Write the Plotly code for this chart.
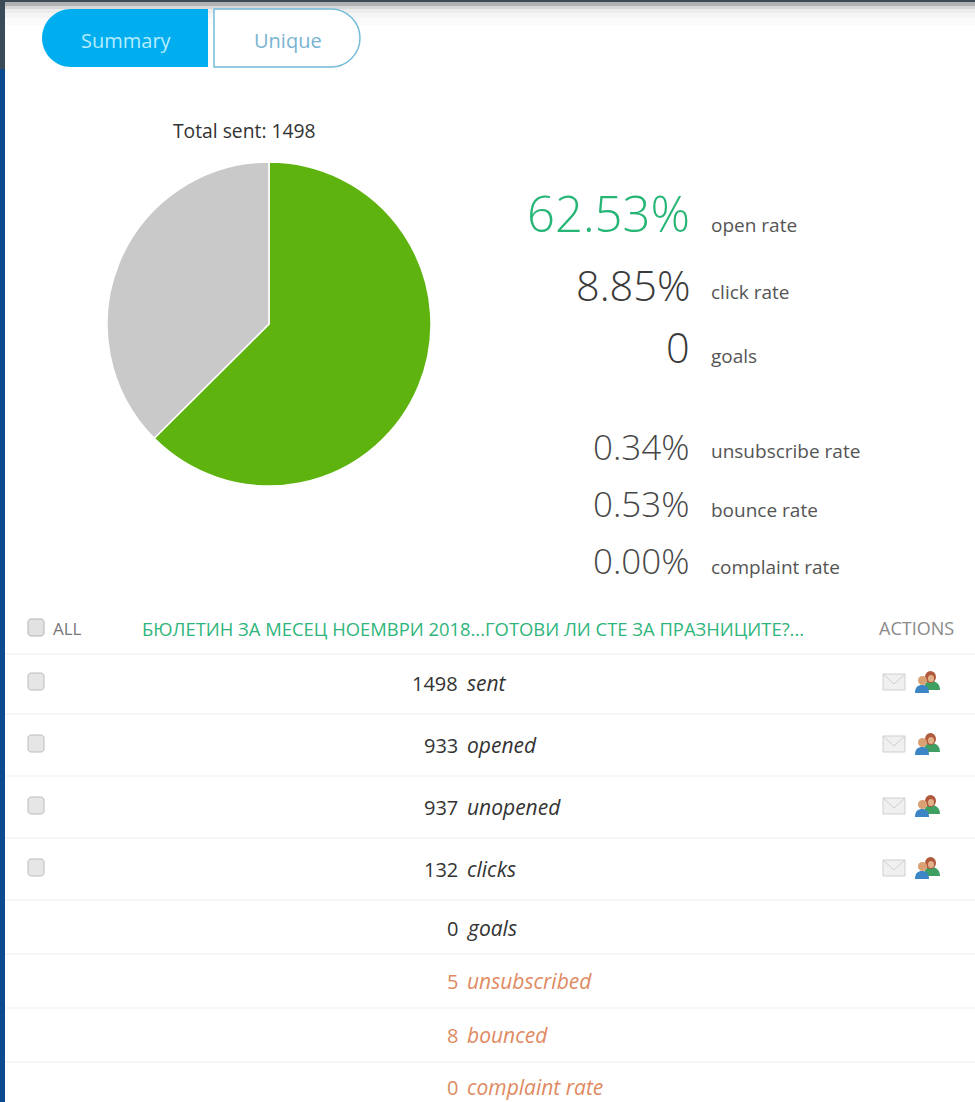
import plotly.graph_objects as go

W, H = 975, 1102
FONT = "Open Sans"

# Campaign figures
total_sent = 1498
pie_labels = ["opened", "not opened"]
pie_values = [62.53, 37.47]
pie_colors = ["#5fb30f", "#c9c9c9"]

rate_values = ["62.53%", "8.85%", "0", "0.34%", "0.53%", "0.00%"]
rate_labels = ["open rate", "click rate", "goals", "unsubscribe rate", "bounce rate", "complaint rate"]

row_values = ["1498", "933", "937", "132", "0", "5", "8", "0"]
row_labels = ["sent", "opened", "unopened", "clicks", "goals", "unsubscribed", "bounced", "complaint rate"]
campaign_title = "БЮЛЕТИН ЗА МЕСЕЦ НОЕМВРИ 2018...ГОТОВИ ЛИ СТЕ ЗА ПРАЗНИЦИТЕ?..."

# Layout of the page, in pixels
rate_y = [213, 285, 347, 446, 503, 560]
rate_size = [49, 41.5, 41.5, 35, 35, 35]
rate_color = ["#25b574", "#3a3a3a", "#3a3a3a", "#474747", "#474747", "#474747"]
rate_label_y = [225, 292, 356, 451, 510, 567]
row_y = [683, 745, 807, 869, 928, 981, 1035, 1087]
row_color = ["#333333"] * 5 + ["#e08a62"] * 3
row_rules = [654, 714, 776, 838, 900, 954, 1008, 1062]
check_rows = [684, 746, 808, 870]
ORANGE_NUM = "#dd8a5e"
# Fading shadow below the top bar: (top, bottom, colour)
header_fade = [(2, 6, "#b0b2b4"), (6, 9, "#d8d8d8"), (9, 13, "#ececec"), (13, 18, "#f5f5f5"), (18, 25, "#fbfbfb")]


def rect(x0, y0, x1, y1, fill, line=None, width=0):
    return dict(type="rect", x0=x0, y0=y0, x1=x1, y1=y1, fillcolor=fill,
                line=dict(color=line or fill, width=width), layer="below")


def rounded(x0, y0, x1, y1, r_left, r_right, fill, line, width):
    k = 0.55
    p = (f"M {x0 + r_left},{y0} L {x1 - r_right},{y0} "
         f"C {x1 - r_right + k * r_right},{y0} {x1},{y0 + r_right - k * r_right} {x1},{y0 + r_right} "
         f"L {x1},{y1 - r_right} "
         f"C {x1},{y1 - r_right + k * r_right} {x1 - r_right + k * r_right},{y1} {x1 - r_right},{y1} "
         f"L {x0 + r_left},{y1} "
         f"C {x0 + r_left - k * r_left},{y1} {x0},{y1 - r_left + k * r_left} {x0},{y1 - r_left} "
         f"L {x0},{y0 + r_left} "
         f"C {x0},{y0 + r_left - k * r_left} {x0 + r_left - k * r_left},{y0} {x0 + r_left},{y0} Z")
    return dict(type="path", path=p, fillcolor=fill, line=dict(color=line, width=width), layer="below")


def text(x, y, s, size, color, anchor="left", italic=False, weight=400):
    return dict(x=x, y=y, xref="x", yref="y", text=s, showarrow=False, xanchor=anchor, yanchor="middle",
                font=dict(family=FONT, size=size, color=color, style="italic" if italic else "normal",
                          weight=weight))


shapes = [rect(5, y0, W, y1, col) for y0, y1, col in header_fade]
shapes += [
    # Page edge and top bar
    rect(0, 69, 5, H, "#0b4a8e"),
    rect(0, 0, 5, 69, "#3a4a57"),
    rect(0, 0, W, 2, "#3a4a57"),
    # Summary / Unique toggle
    rounded(42, 9, 208, 67, 29, 0, "#00aeef", "#00aeef", 0),
    rounded(214, 9, 360, 67, 0, 29, "#ffffff", "#74bcd8", 1.5),
]

# Table rules
for y in row_rules:
    shapes.append(dict(type="line", x0=5, x1=W, y0=y, y1=y, line=dict(color="#efefef", width=1), layer="below"))

# Checkboxes
shapes.append(rounded(28, 619, 44, 636, 3, 3, "#e2e2e2", "#b4b4b4", 1))
for y in check_rows:
    shapes.append(rounded(28, y - 11, 44, y + 6, 3, 3, "#e6e6e6", "#bcbcbc", 1))

# Envelope and recipient icons in the action column
for y in check_rows:
    c = y - 2
    shapes += [
        rect(883, c - 8, 905, c + 8, "#f0f0f0", "#cfcfcf", 1),
        dict(type="path", path=f"M 883,{c - 8} L 894,{c + 2} L 905,{c - 8}",
             line=dict(color="#cfcfcf", width=1), layer="below"),
        dict(type="path", path=f"M 924,{c + 8} C 924,{c + 1} 927,{c - 1} 931,{c - 1} "
                               f"C 936,{c - 1} 940,{c + 2} 940,{c + 8} Z",
             fillcolor="#3f9f63", line=dict(width=0)),
        dict(type="circle", x0=925, x1=936, y0=c - 11, y1=c + 1, fillcolor="#b0593c", line=dict(width=0)),
        dict(type="circle", x0=928, x1=934, y0=c - 7, y1=c, fillcolor="#e3b08c", line=dict(width=0)),
        dict(type="circle", x0=918, x1=927, y0=c - 6, y1=c + 3, fillcolor="#d9a074", line=dict(width=0)),
        dict(type="path", path=f"M 915,{c + 11} C 915,{c + 5} 918,{c + 3} 922,{c + 3} "
                               f"C 926,{c + 3} 929,{c + 5} 929,{c + 11} Z",
             fillcolor="#3d86c6", line=dict(width=0)),
    ]

annotations = [
    text(126, 40, "Summary", 20, "#b5ecff", "center", weight=500),
    text(288, 40, "Unique", 20, "#79b4d2", "center"),
    text(244.5, 130, f"Total sent: {total_sent}", 19.3, "#333333", "center"),
    text(51, 628, "ALL", 17, "#777777"),
    text(473, 628, campaign_title, 18.4, "#2fb57c", "center"),
    text(916, 628, "ACTIONS", 18, "#8a8a8a", "center"),
]

for val, lab, y, ly, size, col in zip(rate_values, rate_labels, rate_y, rate_label_y, rate_size, rate_color):
    annotations.append(text(692, y, val, size, col, "right", weight=300))
    annotations.append(text(709, ly, lab, 19, "#555555"))

for i, (val, lab, y, col) in enumerate(zip(row_values, row_labels, row_y, row_color)):
    annotations.append(text(460, y, val, 20, ORANGE_NUM if i >= 5 else "#333333", "right"))
    annotations.append(text(465, y, lab, 21, col, italic=True))

fig = go.Figure()
fig.add_trace(go.Pie(
    labels=pie_labels, values=pie_values, sort=False, direction="clockwise", rotation=0,
    marker=dict(colors=pie_colors, line=dict(color="#ffffff", width=1.5)),
    textinfo="none", showlegend=False,
    domain=dict(x=[107 / W, 431 / W], y=[1 - 486 / H, 1 - 162 / H]),
))
fig.update_layout(
    width=W, height=H, margin=dict(l=0, r=0, t=0, b=0),
    paper_bgcolor="#ffffff", plot_bgcolor="rgba(0,0,0,0)",
    xaxis=dict(range=[0, W], visible=False, fixedrange=True),
    yaxis=dict(range=[H, 0], visible=False, fixedrange=True),
    shapes=shapes, annotations=annotations, showlegend=False,
)
fig.write_html("out.html", config=dict(displayModeBar=False))
